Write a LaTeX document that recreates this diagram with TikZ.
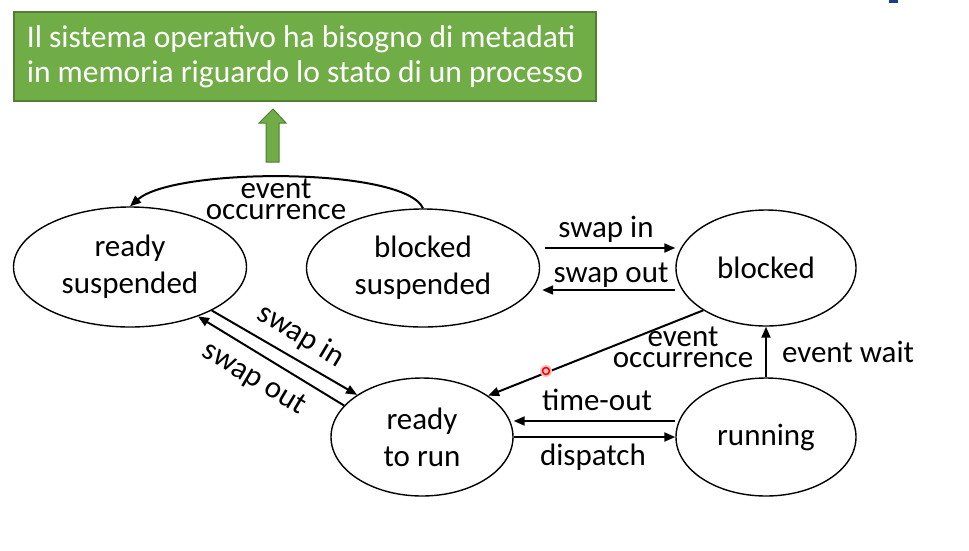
\documentclass[tikz,border=0pt]{standalone}
\usepackage{fontspec}
\setmainfont{Carlito}
\usetikzlibrary{shapes.geometric,arrows.meta}
\definecolor{boxgreen}{HTML}{70AD47}
\definecolor{boxedge}{HTML}{507E32}
\definecolor{slideblue}{HTML}{1F3C88}
\tikzset{
  state/.style={ellipse, draw=black, line width=1.4pt, inner sep=0pt, align=center,
    font=\fontsize{31}{37}\selectfont},
  conn/.style={line width=2pt, -{Triangle[length=11pt,width=9pt]}},
  lbl/.style={inner sep=0pt, anchor=base, align=center, font=\fontsize{31}{21}\selectfont},
}
\begin{document}
\begin{tikzpicture}[x=1pt,y=-1pt]
\useasboundingbox (0,0) rectangle (969,550);
\fill[white] (0,0) rectangle (969,550);
\fill[slideblue] (889,0) rectangle (898,3);

% title box
\node[draw=boxedge, fill=boxgreen, line width=1.2pt, minimum width=582pt, minimum height=89pt,
  inner sep=0pt, text=white, align=left, font=\fontsize{31.5}{35}\selectfont]
  (title) at (305,56.5) {Il sistema operativo ha bisogno di metadati\\in memoria riguardo lo stato di un processo};
\filldraw[fill=boxgreen, draw=boxedge, line width=1pt]
  (266,162) -- (266,123) -- (259,123) -- (273,109) -- (286,123) -- (279,123) -- (279,162) -- cycle;

% states
\node[state, minimum width=233pt, minimum height=120pt] (rs) at (130,267) {ready\\suspended};
\node[state, minimum width=233pt, minimum height=118pt] (bs) at (423,268) {blocked\\suspended};
\node[state, minimum width=180pt, minimum height=116pt] (bl) at (766,268) {blocked};
\node[state, minimum width=182pt, minimum height=118pt] (rr) at (422,437) {ready\\to run};
\node[state, minimum width=180pt, minimum height=118pt] (ru) at (766,437) {running};

% connectors
\draw[conn] (bs.north) .. controls (405,167) and (175,167) .. (rs.north);
\draw[conn] ([shift={(5,-20)}]bs.east) -- ([shift={(0,-20)}]bl.west);
\draw[conn] ([shift={(0,22)}]bl.west) -- ([shift={(2,22)}]bs.east);
\draw[conn] (bl.214) -- (rr.32);
\draw[conn] (ru.north) -- (bl.south);
\draw[conn] ([shift={(0,-16)}]ru.west) -- ([shift={(0,-16)}]rr.east);
\draw[conn] (rr.east) -- (ru.west);
\draw[conn] (rs.-28) -- (rr.147);
\draw[conn] (rr.158) -- (rs.-36);

% labels
\node[lbl] (l1) at (276,219) {event\\occurrence};
\node[lbl] (l2) at (606,237) {swap in};
\node[lbl] (l3) at (611,282) {swap out};
\node[lbl] (l4) at (683,367) {event\\occurrence};
\node[lbl] (l5) at (848,362) {event wait};
\node[lbl] (l6) at (597,410) {time-out};
\node[lbl] (l7) at (593,465) {dispatch};
\node[lbl, anchor=center, rotate=-31] (l8) at (301,336) {swap in};
\node[lbl, anchor=center, rotate=-31] (l9) at (254,379) {swap out};

% pointer mark
\fill[red!25] (546,371) circle (6);
\draw[red, line width=1.5pt] (546,371) circle (3.5);
\end{tikzpicture}
\end{document}
